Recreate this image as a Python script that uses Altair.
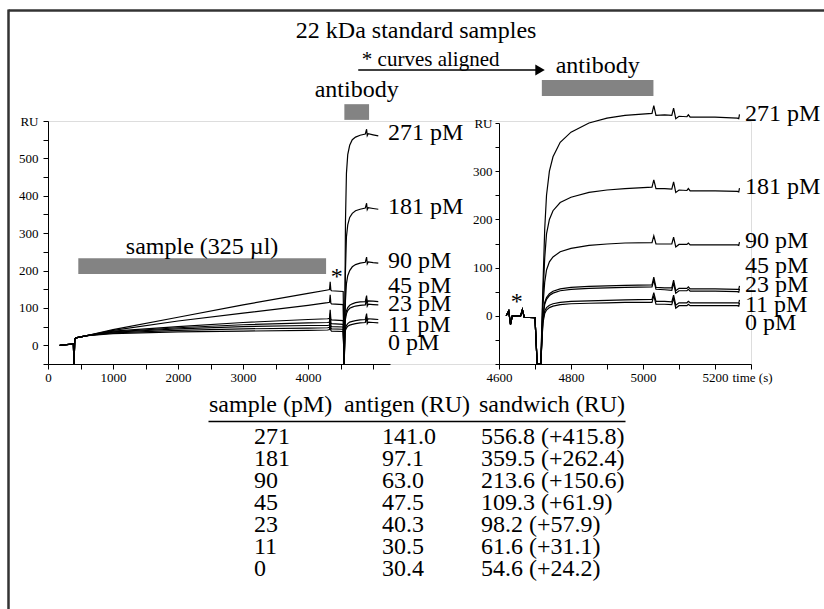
import altair as alt
import pandas as pd

FONT = "Liberation Serif"

# ---------------- data ----------------
series = ["271 pM", "181 pM", "90 pM", "45 pM", "23 pM", "11 pM", "0 pM"]

# left panel: whole sensorgram (time in s, response in RU)
t_left = [180, 390, 400, 412, 430, 600, 1000, 2000, 3000, 4000, 4300, 4330, 4340, 4350, 4360,
          4540, 4555, 4568, 4575, 4590, 4610, 4640, 4680, 4730, 4800, 4880, 4900, 4910, 4925,
          5000, 5080]
ru_left = {
    "271 pM": [0, 4, -50, 16, 20, 26, 42, 75, 108, 139, 148, 149, 170, 148, 146, 144, -50, 150,
               330, 460, 510, 535, 550, 557, 562, 565, 578, 561, 566, 563, 560],
    "181 pM": [0, 4, -50, 16, 20, 26, 40, 65, 86, 107, 114, 115, 135, 113, 111, 109, -50, 110,
               200, 290, 322, 342, 353, 360, 364, 367, 380, 363, 368, 366, 364],
    "90 pM": [0, 4, -50, 16, 20, 26, 38, 50, 61, 69, 71, 72, 95, 70, 68, 66, -50, 80,
              120, 165, 186, 200, 210, 216, 220, 222, 236, 218, 223, 221, 220],
    "45 pM": [0, 4, -50, 16, 20, 26, 36, 47, 55, 60, 61, 62, 85, 60, 58, 56, -50, 65,
              78, 92, 101, 107, 111, 114, 116, 117, 133, 114, 119, 118, 117],
    "23 pM": [0, 4, -50, 16, 20, 26, 35, 44, 50, 53, 53, 54, 78, 52, 50, 49, -50, 58,
              70, 84, 93, 99, 102, 105, 107, 108, 124, 105, 110, 109, 108],
    "11 pM": [0, 4, -50, 16, 20, 26, 33, 40, 44, 46, 47, 48, 70, 46, 44, 43, -50, 38,
              46, 53, 58, 62, 64, 66, 68, 69, 85, 66, 71, 70, 69],
    "0 pM": [0, 4, -50, 16, 20, 26, 31, 36, 38, 40, 41, 42, 62, 40, 38, 37, -50, 30,
             40, 46, 51, 54, 56, 58, 60, 61, 76, 58, 62, 61, 60],
}

# right panel: antibody step, curves aligned
t_right = [4620, 4627, 4632, 4637, 4660, 4665, 4670, 4700, 4706, 4716, 4722, 4727, 4732, 4740,
           4750, 4770, 4800, 4850, 4900, 4950, 5025, 5030, 5036, 5060, 5080, 5085, 5091, 5100,
           5122, 5126, 5131, 5200, 5262, 5266, 5268]
ru_right = {
    "271 pM": [0, 10, -18, 0, 0, 13, -3, -4, -100, -100, 60, 180, 250, 300, 330, 360, 381, 400,
               410, 416, 420, 436, 416, 417, 416, 431, 409, 414, 413, 417, 412, 412, 410, 409, 418],
    "181 pM": [0, 10, -18, 0, 0, 13, -3, -4, -100, -100, 40, 120, 170, 200, 218, 235, 246, 256,
               261, 264, 267, 282, 264, 264, 263, 278, 256, 261, 260, 264, 259, 259, 258, 257, 265],
    "90 pM": [0, 10, -18, 0, 0, 13, -3, -4, -100, -100, 20, 70, 95, 112, 122, 133, 140, 146,
              149, 151, 152, 166, 149, 149, 149, 163, 143, 148, 148, 151, 147, 147, 147, 146, 153],
    "45 pM": [0, 10, -18, 0, 0, 13, -3, -4, -100, -100, 0, 28, 38, 46, 51, 56, 59, 61,
              62, 63, 64, 80, 59, 58, 58, 74, 52, 57, 57, 60, 56, 56, 55, 55, 62],
    "23 pM": [0, 10, -18, 0, 0, 13, -3, -4, -100, -100, -5, 24, 34, 42, 47, 52, 55, 57,
              58, 59, 60, 74, 55, 54, 53, 68, 47, 52, 52, 55, 51, 51, 50, 49, 56],
    "11 pM": [0, 10, -18, 0, 0, 13, -3, -4, -100, -100, -10, 10, 17, 22, 25, 28, 30, 31,
              32, 33, 34, 48, 30, 30, 29, 43, 22, 27, 27, 30, 27, 27, 27, 26, 33],
    "0 pM": [0, 10, -18, 0, 0, 13, -3, -4, -100, -100, -15, 5, 12, 17, 20, 23, 25, 26,
             27, 28, 28, 42, 24, 24, 23, 37, 16, 21, 21, 24, 21, 21, 21, 20, 27],
}

# table
table_cols = ["sample (pM)", "antigen (RU)", "sandwich (RU)"]
samples = ["271", "181", "90", "45", "23", "11", "0"]
antigen = ["141.0", "97.1", "63.0", "47.5", "40.3", "30.5", "30.4"]
sandwich = ["556.8 (+415.8)", "359.5 (+262.4)", "213.6 (+150.6)", "109.3 (+61.9)",
            "98.2 (+57.9)", "61.6 (+31.1)", "54.6 (+24.2)"]

# annotation anchors (in data units of each panel)
left_label_ru = [567, 369, 226, 159, 111, 55, 7]
right_label_ru = [418, 267, 156, 104, 63, 22, -14]

# ---------------- frames ----------------
df_left = pd.DataFrame([{"series": s, "t": t, "ru": v}
                        for s in series for t, v in zip(t_left, ru_left[s])])
df_right = pd.DataFrame([{"series": s, "t": t, "ru": v}
                         for s in series for t, v in zip(t_right, ru_right[s])])
df_lab_left = pd.DataFrame({"series": series, "t": [5231] * 7, "ru": left_label_ru})
df_lab_right = pd.DataFrame({"series": series, "t": [5283] * 7, "ru": right_label_ru})


# ---------------- scales & axes ----------------
def xL():
    return alt.Scale(domain=[0, 5260], range=[0, 342], nice=False, zero=False)


def yL():
    return alt.Scale(domain=[-50, 600], range=[243, 0], nice=False, zero=False)


def xR():
    return alt.Scale(domain=[4600, 5300], range=[451, 703], nice=False, zero=False)


def yR():
    return alt.Scale(domain=[-100, 400], range=[243, 2], nice=False, zero=False)


ax = dict(domainColor="black", tickColor="black", labelColor="black", labelFont=FONT,
          labelFontSize=13, grid=False, domainWidth=1, tickWidth=1, labelFlush=False,
          labelOverlap=False, format="d", domain=True, ticks=True, labels=True)

axXL = alt.Axis(orient="bottom", values=list(range(0, 5001, 500)), tickSize=5, labelPadding=2,
                labelExpr="datum.value % 1000 == 0 && datum.value < 5000 ? datum.label : ''",
                title=None, **ax)
axYL = alt.Axis(orient="left", values=list(range(-50, 601, 50)), tickSize=5, labelPadding=5,
                labelExpr="datum.value == 600 ? 'RU' : (datum.value % 100 == 0 && datum.value >= 0 ? datum.label : '')",
                title=None, **ax)
axXR = alt.Axis(orient="bottom", values=list(range(4600, 5301, 100)), tickSize=5, labelPadding=2,
                labelExpr="datum.value % 200 == 0 && datum.value < 5300 ? datum.label : ''",
                title="time (s)", titleX=684, titleY=13, titleAlign="left",
                titleBaseline="middle", titleFont=FONT, titleFontSize=13,
                titleFontWeight="normal", titleColor="black", **ax)
axYR = alt.Axis(orient="left", offset=-451, values=list(range(-100, 401, 50)), tickSize=4,
                labelPadding=3,
                labelExpr="datum.value == 400 ? 'RU' : (datum.value % 100 == 0 && datum.value >= 0 ? datum.label : '')",
                title=None, **ax)

GRAY = "#838383"


def txt(df, xs, ys, size, align="center", baseline="alphabetic"):
    return alt.Chart(df).mark_text(font=FONT, fontSize=size, align=align, baseline=baseline,
                                   color="black").encode(
        x=alt.X("t:Q", scale=xs, axis=None),
        y=alt.Y("ru:Q", scale=ys, axis=None),
        text="text:N")


def rect(df, xs, ys):
    return alt.Chart(df).mark_rect(color=GRAY).encode(
        x=alt.X("t0:Q", scale=xs, axis=None), x2="t1:Q",
        y=alt.Y("r0:Q", scale=ys, axis=None), y2="r1:Q")


# ---------------- left panel ----------------
left_lines = alt.Chart(df_left).mark_line(color="black", strokeWidth=1.2).encode(
    x=alt.X("t:Q", scale=xL(), axis=axXL),
    y=alt.Y("ru:Q", scale=yL(), axis=axYL),
    detail="series:N")
left_labels = alt.Chart(df_lab_left).mark_text(font=FONT, fontSize=24, align="left",
                                               baseline="middle", color="black").encode(
    x=alt.X("t:Q", scale=xL(), axis=None), y=alt.Y("ru:Q", scale=yL(), axis=None),
    text="series:N")
left_bars = rect(pd.DataFrame({"t0": [466, 4558], "t1": [4277, 4938],
                               "r0": [191, 603], "r1": [233, 645]}), xL(), yL())
left_text24 = txt(pd.DataFrame({"t": [2370, 4747, 4441, 5662], "ru": [245, 665, 165, 822],
                                "text": ["sample (325 µl)", "antibody", "*",
                                         "22 kDa standard samples"]}), xL(), yL(), 24)
frame = alt.Chart(pd.DataFrame({"a": [0]})).mark_rule(color="#333333", strokeWidth=2.5)
frame_top = frame.encode(x=alt.value(-39.5), x2=alt.value(780), y=alt.value(-110.5))
frame_left = frame.encode(x=alt.value(-39.5), y=alt.value(-111.5), y2=alt.value(490))

# ---------------- right panel ----------------
right_lines = alt.Chart(df_right).mark_line(color="black", strokeWidth=1.2).encode(
    x=alt.X("t:Q", scale=xR(), axis=axXR),
    y=alt.Y("ru:Q", scale=yR(), axis=axYR),
    detail="series:N")
right_labels = alt.Chart(df_lab_right).mark_text(font=FONT, fontSize=24, align="left",
                                                 baseline="middle", color="black").encode(
    x=alt.X("t:Q", scale=xR(), axis=None), y=alt.Y("ru:Q", scale=yR(), axis=None),
    text="series:N")
right_bar = rect(pd.DataFrame({"t0": [4719], "t1": [5029], "r0": [456], "r1": [489]}),
                 xR(), yR())
right_text24 = txt(pd.DataFrame({"t": [4874, 4649], "ru": [503, 14],
                                 "text": ["antibody", "*"]}), xR(), yR(), 24)
right_note = txt(pd.DataFrame({"t": [4219], "ru": [518], "text": ["* curves aligned"]}),
                 xR(), yR(), 21, align="left")
arrow_line = alt.Chart(pd.DataFrame({"t0": [4209], "t1": [4705], "ru": [510]})).mark_rule(
    color="black", strokeWidth=1.5).encode(
    x=alt.X("t0:Q", scale=xR(), axis=None), x2="t1:Q",
    y=alt.Y("ru:Q", scale=yR(), axis=None))
arrow_head = alt.Chart(pd.DataFrame({"t": [4714], "ru": [510]})).mark_point(
    shape="triangle-right", filled=True, size=120, color="black", opacity=1).encode(
    x=alt.X("t:Q", scale=xR(), axis=None), y=alt.Y("ru:Q", scale=yR(), axis=None))

# ---------------- table ----------------
df_table = pd.DataFrame(
    [{"col": table_cols[0], "row": s, "text": s} for s in samples]
    + [{"col": table_cols[1], "row": s, "text": a} for s, a in zip(samples, antigen)]
    + [{"col": table_cols[2], "row": s, "text": w} for s, w in zip(samples, sandwich)])
df_head = pd.DataFrame({"col": table_cols, "row": [samples[0]] * 3, "text": table_cols})


def xT():
    return alt.Scale(type="band", domain=table_cols, range=[160, 577], paddingInner=0,
                     paddingOuter=0)


def yT():
    return alt.Scale(type="band", domain=samples, range=[305, 459], paddingInner=0,
                     paddingOuter=0)


axXT = alt.Axis(orient="top", offset=-300, labels=False, ticks=False, domain=True,
                domainColor="black", domainWidth=1.5, grid=False, title=None)


def table_col(df, name, dx, dy=0, axis=None):
    return alt.Chart(df).transform_filter(alt.datum.col == name).mark_text(
        font=FONT, fontSize=24, align="left", baseline="middle", color="black",
        dx=dx, dy=dy).encode(
        x=alt.X("col:N", scale=xT(), axis=axis, bandPosition=0),
        y=alt.Y("row:N", scale=yT(), axis=None),
        text="text:N")


layers = [
    left_lines, right_lines,
    left_labels, left_bars, left_text24, frame_top, frame_left,
    right_labels, right_bar, right_text24, right_note, arrow_line, arrow_head,
    table_col(df_table, table_cols[0], 46, axis=axXT),
    table_col(df_table, table_cols[1], 35),
    table_col(df_table, table_cols[2], -5),
    table_col(df_head, table_cols[0], 1, -32),
    table_col(df_head, table_cols[1], -3, -32),
    table_col(df_head, table_cols[2], -7, -32),
]

chart = alt.layer(*layers).resolve_scale(
    x="independent", y="independent"
).resolve_axis(
    x="independent", y="independent"
).properties(
    width=703, height=243,
    autosize=alt.AutoSizeParams(type="none"),
    padding={"left": 48, "top": 121, "right": 73, "bottom": 245},
).configure_view(strokeWidth=0).configure(background="white")

chart.save("out.html", embed_options={"renderer": "svg", "actions": False})
